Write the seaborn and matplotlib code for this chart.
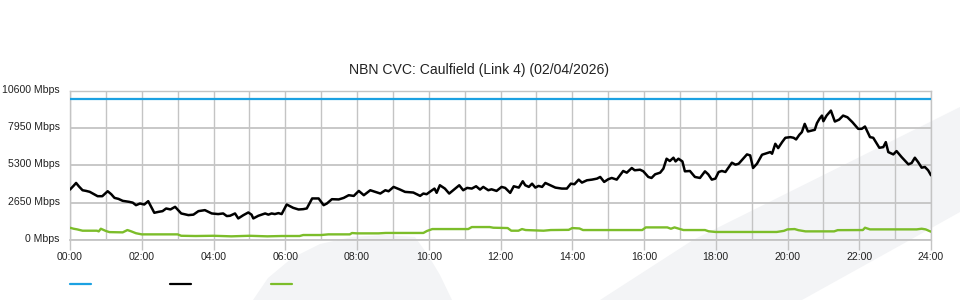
import matplotlib
matplotlib.use("Agg")
import matplotlib.pyplot as plt
from matplotlib.patches import Polygon
from matplotlib.lines import Line2D
from matplotlib.ticker import FixedLocator, MultipleLocator
from matplotlib.transforms import ScaledTranslation
import seaborn as sns
import pandas as pd

# ---------------- data ----------------
title = "NBN CVC: Caulfield (Link 4) (02/04/2026)"

capacity_hours = [0, 24]
capacity_mbps = [10000, 10000]

black_hours = [
    0.00, 0.10, 0.17, 0.25, 0.35, 0.45, 0.55, 0.67, 0.77, 0.90, 1.05, 1.15, 1.24, 1.35, 1.47,
    1.65, 1.75, 1.84, 1.95, 2.07, 2.18, 2.35, 2.47, 2.58, 2.68, 2.80, 2.93, 3.10, 3.30, 3.44,
    3.58, 3.76, 3.95, 4.13, 4.27, 4.37, 4.46, 4.60, 4.69, 4.83, 4.97, 5.06, 5.11, 5.25, 5.44,
    5.53, 5.62, 5.71, 5.81, 5.90, 6.04, 6.22, 6.37, 6.50, 6.60, 6.75, 6.93, 7.07, 7.16, 7.30,
    7.49, 7.63, 7.77, 7.91, 8.05, 8.19, 8.37, 8.51, 8.65, 8.79, 8.88, 9.02, 9.20, 9.34, 9.57,
    9.76, 9.85, 9.94, 10.03, 10.16, 10.22, 10.31, 10.45, 10.57, 10.68, 10.85, 10.96, 11.07, 11.20, 11.32,
    11.43, 11.52, 11.66, 11.75, 11.89, 12.03, 12.13, 12.27, 12.37, 12.51, 12.62, 12.69, 12.79, 12.88, 12.97,
    13.06, 13.16, 13.25, 13.39, 13.53, 13.71, 13.85, 13.96, 14.06, 14.18, 14.27, 14.41, 14.55, 14.69, 14.78,
    14.89, 15.00, 15.10, 15.24, 15.42, 15.52, 15.66, 15.74, 15.89, 15.98, 16.12, 16.21, 16.31, 16.45, 16.54,
    16.63, 16.72, 16.82, 16.88, 16.96, 17.07, 17.14, 17.28, 17.42, 17.56, 17.70, 17.79, 17.89, 17.99, 18.08,
    18.17, 18.27, 18.45, 18.55, 18.64, 18.87, 18.96, 19.04, 19.15, 19.29, 19.38, 19.52, 19.57, 19.66, 19.74,
    19.85, 19.94, 20.08, 20.17, 20.24, 20.33, 20.40, 20.48, 20.57, 20.68, 20.76, 20.82, 20.89, 20.96, 21.00,
    21.09, 21.21, 21.32, 21.44, 21.55, 21.67, 21.81, 21.97, 22.07, 22.16, 22.30, 22.39, 22.56, 22.67, 22.74,
    22.81, 22.95, 23.04, 23.18, 23.37, 23.46, 23.55, 23.64, 23.74, 23.83, 23.92, 24.00,
]
black_mbps = [
    3583, 3850, 4050, 3800, 3533, 3485, 3420, 3250, 3110, 3110, 3463, 3250, 2991, 2920, 2779,
    2708, 2650, 2473, 2590, 2520, 2756, 1932, 2000, 2049, 2238, 2170, 2355, 1885, 1767, 1800,
    2049, 2120, 1885, 1840, 1885, 1700, 1720, 1885, 1531, 1760, 1955, 1800, 1531, 1720, 1885,
    1800, 1885, 1840, 1910, 1840, 2520, 2285, 2167, 2190, 2240, 2950, 2950, 2473, 2590, 2897,
    2880, 2990, 3180, 3130, 3485, 3180, 3533, 3420, 3300, 3533, 3460, 3769, 3580, 3416, 3370,
    3133, 3300, 3250, 3420, 3651, 3350, 3887, 3651, 3298, 3533, 3887, 3533, 3700, 3651, 3816,
    3580, 3769, 3533, 3600, 3485, 3769, 3700, 3345, 3816, 3720, 4170, 3887, 3769, 4000, 3720,
    3840, 3769, 4050, 3887, 3720, 3651, 3651, 4000, 3960, 4287, 4075, 4240, 4287, 4358, 4476,
    4123, 4310, 4405, 4287, 4900, 4780, 5112, 4950, 4990, 4880, 4476, 4405, 4665, 4780, 5065,
    5771, 5606, 5841, 5580, 5771, 5580, 4876, 4900, 4476, 4405, 4876, 4665, 4287, 4358, 4829,
    4900, 4829, 5488, 5347, 5418, 6078, 6007, 5112, 5418, 6054, 6125, 6243, 6125, 6831, 6525,
    6950, 7257, 7304, 7257, 7140, 7470, 7657, 8245, 7704, 7775, 7822, 8292, 8600, 8833, 8433,
    8833, 9187, 8410, 8550, 8833, 8716, 8363, 7893, 7893, 8057, 7304, 7257, 6548, 6595, 6950,
    6241, 6078, 6313, 5889, 5371, 5465, 5841, 5535, 5135, 5183, 4950, 4594,
]

green_hours = [
    0.00, 0.10, 0.20, 0.35, 0.75, 0.80, 0.86, 1.00, 1.10, 1.47, 1.60, 1.70, 1.84, 2.00, 3.00,
    3.10, 3.50, 4.00, 4.50, 5.00, 5.50, 5.90, 6.40, 6.50, 7.00, 7.20, 7.80, 7.86, 8.00, 8.60,
    8.80, 9.85, 9.95, 10.10, 11.10, 11.20, 11.70, 11.80, 12.20, 12.30, 12.50, 12.60, 12.70, 13.20, 13.40,
    13.90, 14.00, 14.20, 14.30, 15.95, 16.05, 16.65, 16.75, 16.85, 17.00, 17.10, 17.70, 17.80, 18.00, 19.70,
    19.90, 20.00, 20.20, 20.30, 20.50, 21.30, 21.40, 22.10, 22.16, 22.30, 23.60, 23.74, 23.85, 24.00,
]
green_mbps = [
    870, 800, 754, 660, 660, 610, 800, 640, 560, 542, 707, 620, 480, 400, 400,
    300, 283, 300, 260, 300, 260, 283, 283, 353, 353, 400, 400, 495, 471, 471,
    500, 500, 640, 777, 777, 919, 919, 872, 848, 660, 660, 777, 707, 660, 707,
    720, 848, 820, 707, 707, 895, 895, 800, 895, 780, 707, 707, 620, 570, 570,
    650, 754, 777, 700, 613, 613, 700, 707, 872, 754, 754, 800, 754, 589,
]

y_ticks = [0, 2650, 5300, 7950, 10600]
y_tick_labels = ["0 Mbps", "2650 Mbps", "5300 Mbps", "7950 Mbps", "10600 Mbps"]
x_ticks = [0, 2, 4, 6, 8, 10, 12, 14, 16, 18, 20, 22, 24]
x_tick_labels = ["00:00", "02:00", "04:00", "06:00", "08:00", "10:00", "12:00",
                 "14:00", "16:00", "18:00", "20:00", "22:00", "24:00"]

BLUE = "#1ba1e2"
BLACK = "#000000"
GREEN = "#7cbd2a"
GRID = "#c4c4c4"
TEXT = "#222222"

# ---------------- style ----------------
sns.set_style("white")
plt.rcParams["font.family"] = ["Liberation Sans", "DejaVu Sans"]

fig = plt.figure(figsize=(9.6, 3.0), dpi=100)
fig.patch.set_facecolor("white")

# background watermark shapes (figure pixel coordinates -> figure fraction)
def px(points):
    return [(x / 960.0, 1 - y / 300.0) for x, y in points]

wm_color = "#f3f4f6"
band = Polygon(px([(600, 300), (693, 240), (960, 107), (960, 212), (910, 240), (802, 300)]),
               closed=True, transform=fig.transFigure, facecolor=wm_color, edgecolor="none", zorder=-10)
blob = Polygon(px([(253, 300), (268, 278), (292, 258), (320, 244), (352, 237), (385, 235),
                   (415, 237), (428, 255), (440, 275), (452, 300)]),
               closed=True, transform=fig.transFigure, facecolor=wm_color, edgecolor="none", zorder=-10)
fig.patches.extend([band, blob])

ax = fig.add_axes([70 / 960, 0.2, 861 / 960, 149.3 / 300])
ax.set_facecolor("none")
ax.set_zorder(5)

df_cap = pd.DataFrame({"hour": capacity_hours, "mbps": capacity_mbps})
df_black = pd.DataFrame({"hour": black_hours, "mbps": black_mbps})
df_green = pd.DataFrame({"hour": green_hours, "mbps": green_mbps})

sns.lineplot(data=df_cap, x="hour", y="mbps", ax=ax, color=BLUE, linewidth=1.6,
             estimator=None, sort=False, zorder=3)
sns.lineplot(data=df_green, x="hour", y="mbps", ax=ax, color=GREEN, linewidth=1.7,
             estimator=None, sort=False, zorder=4)
sns.lineplot(data=df_black, x="hour", y="mbps", ax=ax, color=BLACK, linewidth=1.8,
             estimator=None, sort=False, zorder=5)

ax.set_xlim(0, 24)
ax.set_ylim(0, 10600)
ax.set_xlabel("")
ax.set_ylabel("")

ax.xaxis.set_major_locator(FixedLocator(x_ticks))
ax.xaxis.set_minor_locator(MultipleLocator(1))
ax.set_xticklabels(x_tick_labels)
ax.yaxis.set_major_locator(FixedLocator(y_ticks))
ax.set_yticklabels(y_tick_labels)

ax.set_axisbelow(True)
ax.grid(True, which="major", axis="y", color=GRID, linewidth=1.3)
ax.grid(True, which="both", axis="x", color=GRID, linewidth=1.0)

for side in ["left", "right", "top", "bottom"]:
    ax.spines[side].set_visible(True)
    ax.spines[side].set_color(GRID)
ax.spines["left"].set_linewidth(1.0)
ax.spines["right"].set_linewidth(1.0)
ax.spines["top"].set_linewidth(1.0)
ax.spines["bottom"].set_linewidth(1.3)

ax.tick_params(axis="x", which="major", length=7.2, width=1.0, color=GRID, pad=1.5,
               labelsize=7.6, labelcolor=TEXT, direction="out", bottom=True)
ax.tick_params(axis="x", which="minor", length=0)
ax.tick_params(axis="y", which="major", length=0, pad=7.5, labelsize=7.6, labelcolor=TEXT, left=True)

# y labels sit ~2px above their gridlines in the reference
shift_up = ScaledTranslation(0, 2 / 100, fig.dpi_scale_trans)
for lbl in ax.get_yticklabels():
    lbl.set_transform(lbl.get_transform() + shift_up)

fig.text(479 / 960, 1 - 70 / 300, title, ha="center", va="center", fontsize=10.1, color=TEXT)

handles = [Line2D([], [], color=BLUE, linewidth=1.6),
           Line2D([], [], color=BLACK, linewidth=1.6),
           Line2D([], [], color=GREEN, linewidth=1.6)]
fig.legend(handles, ["", "", ""], loc="center left", bbox_to_anchor=(70 / 960, 1 - 285 / 300),
           ncol=3, frameon=False, borderpad=0, borderaxespad=0, handlelength=2.0,
           handletextpad=0.0, columnspacing=7.5, fontsize=7.6)

fig.savefig("out.png", dpi=100, facecolor="white")
